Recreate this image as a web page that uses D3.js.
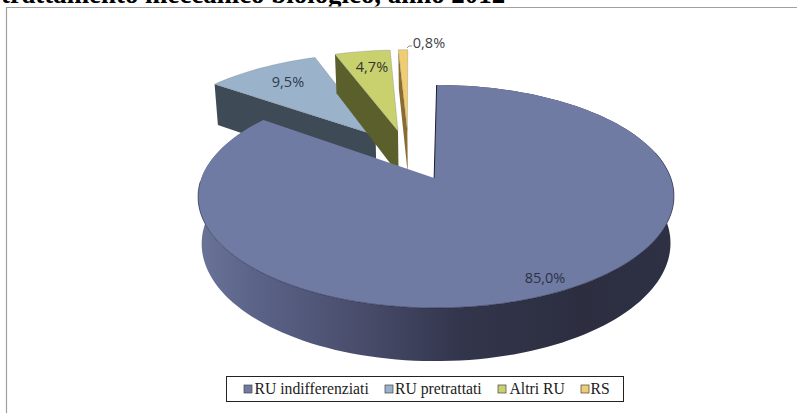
<!DOCTYPE html>
<html><head><meta charset="utf-8">
<script src="https://cdn.jsdelivr.net/npm/d3@7/dist/d3.min.js"></script>
<style>html,body{margin:0;padding:0;background:#fff;overflow:hidden}svg{display:block}</style>
</head><body><svg id="c" width="797" height="413"></svg>
<script>
const categories = ["RU indifferenziati","RU pretrattati","Altri RU","RS"];
const values = [85.0,9.5,4.7,0.8];
const valueLabels = ["85,0%","9,5%","4,7%","0,8%"];
const topColors = ["#6f7ba3","#9bb3ca","#c9d16f","#f0cd72"];
const wallColors = ["#3a3d58","#3e4a56","#5b5f2c","#8a6c30"];
const titleText = "trattamento meccanico biologico, anno 2012";

const svg = d3.select("#c");
const defs = svg.append("defs");
const grad = defs.append("linearGradient").attr("id","mainWall").attr("gradientUnits","userSpaceOnUse")
  .attr("x1",198).attr("x2",674).attr("y1",0).attr("y2",0);
[[0,"#6a7398"],[0.12,"#5b6388"],[0.35,"#484c6a"],[0.55,"#33354c"],[0.8,"#2c2e40"],[1,"#2e3044"]]
  .forEach(s=>grad.append("stop").attr("offset",s[0]).attr("stop-color",s[1]));

svg.append("text").attr("x",1).attr("y",3).attr("font-family","Liberation Serif")
  .attr("font-weight","bold").attr("font-size",26.9).attr("fill","#000").text(titleText);
svg.append("rect").attr("x",0).attr("y",6.5).attr("width",797).attr("height",407).attr("fill","#fff");
svg.append("path").attr("d","M6.5,413V7.5H797").attr("fill","none").attr("stroke","#a0a0a0").attr("stroke-width",1.2);

// perspective projection of the pie plane
const K=.166,A=234.7,B=108.4,X0=437,Y0=178;
const nudge=[3,-3.5,-3.5,-3.5], apexNudge=[1,0,0,0];
const sc=v=>1/(1-K*v);
const topP=(u,v,n=0)=>[X0+n+A*u*sc(v),Y0+B*v*sc(v)];
const botP=(u,v,n=0)=>{const s=sc(v);return [X0+n+A*.985*u*s,Y0+B*v*s+46+6*v*s];};
const EX=.25, C=[-.13,-.223];

const arcs=d3.pie().sort(null).value(d=>d)(values);
function geom(a){
  const mid=(a.startAngle+a.endAngle)/2;
  const o=[C[0]+EX*Math.sin(mid),C[1]-EX*Math.cos(mid)];
  const th=d3.range(0,1.0001,1/Math.max(4,Math.ceil((a.endAngle-a.startAngle)*30))).map(t=>a.startAngle+t*(a.endAngle-a.startAngle));
  const rim=th.map(t=>[o[0]+Math.sin(t),o[1]-Math.cos(t),t]);
  return {o,rim,mid};
}
const line=d3.line();
function drawSlice(i){
  const a=arcs[i],g=geom(a),n=nudge[i],an=apexNudge[i];
  const T=p=>topP(p[0],p[1],n), Bt=p=>botP(p[0],p[1],n);
  const apexT=topP(g.o[0],g.o[1],an), apexB=botP(g.o[0],g.o[1],an);
  const G=svg.append("g");
  if(i===0){
    G.append("path").attr("d",line([...g.rim.map(T),...g.rim.slice().reverse().map(Bt)])+"Z").attr("fill","url(#mainWall)");
  } else {
    const r0=g.rim[0];
    G.append("path").attr("d",line([T(r0),apexT,apexB,Bt(r0)])+"Z").attr("fill",wallColors[i]);
  }
  const poly=G.append("path").attr("d",line([apexT,...g.rim.map(T)])+"Z").attr("fill",topColors[i]);
  if(i===0){
    const front=g.rim.filter(p=>p[2]>1.3&&p[2]<4.7).map(T);
    G.append("path").attr("d",line(front)).attr("fill","none").attr("stroke","#1c1f38").attr("stroke-width",.7).attr("stroke-opacity",.75);
    G.append("path").attr("d",line([T(g.rim[0]),apexT])).attr("fill","none").attr("stroke","#1c1f38").attr("stroke-width",1);
  } else {
    poly.attr("stroke","#5a6068").attr("stroke-width",.5).attr("stroke-opacity",.5);
  }
}
[1,2,3,0].forEach(drawSlice);

const lab=[[545,283],[288,87],[372,72],[429,48]];
const labColor=["#2d3148","#2d3b4e","#333","#444"];
svg.selectAll("text.v").data(valueLabels).join("text").attr("class","v")
  .attr("x",(d,i)=>lab[i][0]).attr("y",(d,i)=>lab[i][1]).attr("text-anchor","middle")
  .attr("font-family","Open Sans").attr("font-size",14.5).attr("fill",(d,i)=>labColor[i]).text(d=>d);
svg.append("path").attr("d","M407,48L409,46H412").attr("fill","none").attr("stroke","#777").attr("stroke-width",.8);

svg.append("rect").attr("x",226.5).attr("y",376.5).attr("width",397).attr("height",25).attr("fill","#fff").attr("stroke","#222").attr("stroke-width",1);
const lx=[244,385,498,581], tx=[254.5,395,509.5,590.5];
const L=svg.selectAll("g.l").data(categories).join("g").attr("class","l");
L.append("rect").attr("x",(d,i)=>lx[i]).attr("y",385).attr("width",8).attr("height",8)
  .attr("fill",(d,i)=>topColors[i]).attr("stroke","#444").attr("stroke-width",.7);
L.append("text").attr("x",(d,i)=>tx[i]).attr("y",394).attr("font-family","Liberation Serif").attr("font-size",15.7).attr("fill","#222").text(d=>d);
</script></body></html>
